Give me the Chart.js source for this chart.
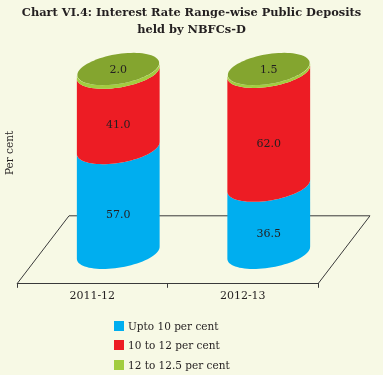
<!DOCTYPE html>
<html>
<head>
<meta charset="utf-8">
<script src="https://cdn.jsdelivr.net/npm/chart.js@4.4.1/dist/chart.umd.min.js"></script>
<style>
  html, body { margin: 0; padding: 0; background: #f7f9e5; }
  #wrap { position: relative; width: 383px; height: 375px; overflow: hidden; }
  #legend { position: absolute; left: 114px; top: 316px; font: 10.5px "DejaVu Serif", serif; color: #231f20; }
  #legend div { height: 19.5px; display: flex; align-items: center; }
  #legend span.box { display: inline-block; width: 10px; height: 10px; margin-right: 4px; }
</style>
</head>
<body>
<div id="wrap">
  <canvas id="chart" width="383" height="375"></canvas>
  <div id="legend"></div>
</div>
<script>
// data
const years = ['2011-12', '2012-13'];
const seriesNames = ['Upto 10 per cent', '10 to 12 per cent', '12 to 12.5 per cent'];
const upto10 = [57.0, 36.5];
const from10to12 = [41.0, 62.0];
const from12to125 = [2.0, 1.5];
const titleLines = ['Chart VI.4: Interest Rate Range-wise Public Deposits', 'held by NBFCs-D'];

const sideColors = ['#00aeef', '#ed1c24', '#a2cd3f'];
const topColor = '#84a52f';

// depth offsets of the floor and of the cylinders
const floorDX = 52, floorDY = -68;
const cylDX = 26, cylDY = -31;
const ry = 15, shear = 6;

function ellPt(cx, cy, a, t) {
    return [cx + a * Math.cos(t), cy + ry * Math.sin(t) - shear * Math.cos(t)];
}

const cylinders = {
    id: 'cylinders',
    beforeDatasetsDraw(chart) {
        const ctx = chart.ctx, area = chart.chartArea;
        ctx.save();
        // title, centred on the whole canvas
        ctx.fillStyle = '#231f20';
        ctx.textAlign = 'center';
        ctx.textBaseline = 'middle';
        ctx.font = 'bold 11.4px "DejaVu Serif", serif';
        titleLines.forEach((t, i) => ctx.fillText(t, chart.width / 2, 13 + i * 17.5));
        // floor parallelogram (front edge is the x axis line)
        ctx.strokeStyle = '#3a3a3a';
        ctx.lineWidth = 1;
        ctx.beginPath();
        ctx.moveTo(area.left, area.bottom);
        ctx.lineTo(area.left + floorDX, area.bottom + floorDY);
        ctx.lineTo(area.right + floorDX, area.bottom + floorDY);
        ctx.lineTo(area.right, area.bottom);
        ctx.stroke();
        // axis title
        ctx.font = '10.5px "DejaVu Serif", serif';
        ctx.translate(10, 153);
        ctx.rotate(-Math.PI / 2);
        ctx.fillText('Per cent', 0, 0);
        ctx.restore();
    },
    afterDatasetsDraw(chart) {
        const ctx = chart.ctx, xs = chart.scales.x, ys = chart.scales.y;
        const sets = chart.data.datasets;
        ctx.save();
        years.forEach((yr, i) => {
            const meta = chart.getDatasetMeta(0);
            const a = meta.data[i].width / 2;
            const cx = xs.getPixelForValue(i) + cylDX;
            let cum = 0;
            const labels = [];
            sets.forEach((ds, k) => {
                const v = ds.data[i];
                const yb = ys.getPixelForValue(cum) + cylDY;
                const yt = ys.getPixelForValue(cum + v) + cylDY;
                ctx.beginPath();
                for (let s = 0; s <= 40; s++) {
                    const p = ellPt(cx, yb, a, Math.PI * s / 40);
                    s === 0 ? ctx.moveTo(p[0], p[1]) : ctx.lineTo(p[0], p[1]);
                }
                for (let s = 40; s >= 0; s--) {
                    const p = ellPt(cx, yt, a, Math.PI * s / 40);
                    ctx.lineTo(p[0], p[1]);
                }
                ctx.closePath();
                ctx.fillStyle = sideColors[k];
                ctx.fill();
                labels.push([v, (yb + yt) / 2 + ry, k === sets.length - 1 ? yt : null]);
                cum += v;
            });
            // top face
            const yTop = ys.getPixelForValue(cum) + cylDY;
            ctx.beginPath();
            for (let s = 0; s <= 80; s++) {
                const p = ellPt(cx, yTop, a - 0.5, 2 * Math.PI * s / 80);
                s === 0 ? ctx.moveTo(p[0], p[1]) : ctx.lineTo(p[0], p[1]);
            }
            ctx.closePath();
            ctx.fillStyle = topColor;
            ctx.fill();
            // value labels
            ctx.fillStyle = '#231f20';
            ctx.font = '11px "DejaVu Serif", serif';
            ctx.textAlign = 'center';
            ctx.textBaseline = 'middle';
            labels.forEach(l => {
                const y = l[2] !== null ? l[2] + 1 : l[1];
                ctx.fillText(l[0].toFixed(1), cx, y);
            });
        });
        ctx.restore();
    }
};

new Chart(document.getElementById('chart'), {
    type: 'bar',
    data: {
        labels: years,
        datasets: [
            { label: seriesNames[0], data: upto10 },
            { label: seriesNames[1], data: from10to12 },
            { label: seriesNames[2], data: from12to125 }
        ].map(d => Object.assign(d, { backgroundColor: 'rgba(0,0,0,0)', barPercentage: 0.55, categoryPercentage: 1 }))
    },
    options: {
        responsive: false,
        animation: false,
        events: [],
        layout: { padding: { left: 17, right: 65, top: 100, bottom: 70 } },
        plugins: {
            legend: { display: false },
            tooltip: { enabled: false },
            title: { display: false }
        },
        scales: {
            x: {
                stacked: true,
                grid: { display: true, drawOnChartArea: false, tickLength: 4, color: '#3a3a3a' },
                border: { color: '#3a3a3a' },
                ticks: { color: '#231f20', padding: 2, font: { family: '"DejaVu Serif", serif', size: 11 } }
            },
            y: { stacked: true, display: false, min: 0, max: 100 }
        }
    },
    plugins: [cylinders]
});

// legend built from the series names
const legend = document.getElementById('legend');
seriesNames.forEach((n, k) => {
    const row = document.createElement('div');
    row.innerHTML = `<span class="box" style="background:${sideColors[k]}"></span>${n}`;
    legend.appendChild(row);
});
</script>
</body>
</html>
